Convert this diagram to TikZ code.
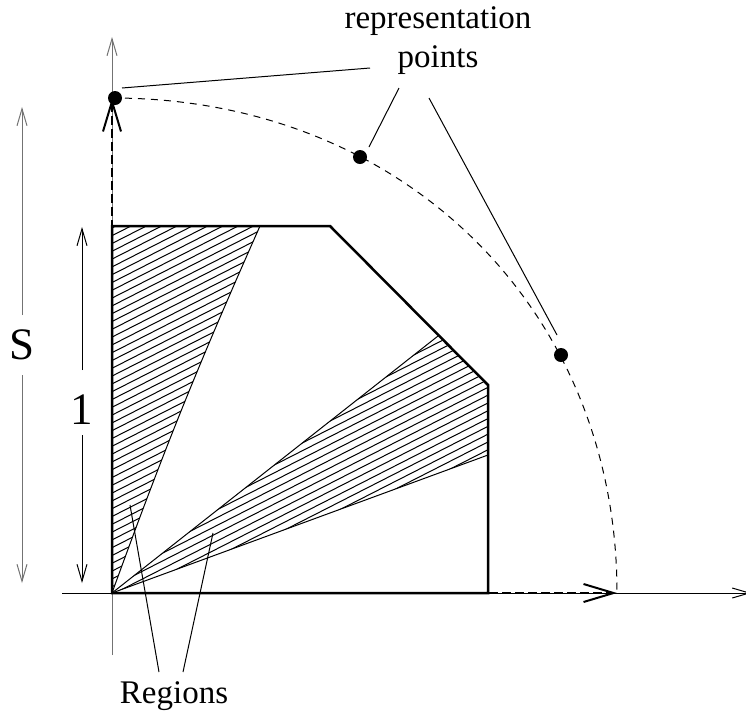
\documentclass[tikz,border=0pt]{standalone}
\usepackage{fontspec}
\setmainfont{Liberation Serif}
\usetikzlibrary{arrows.meta}
\definecolor{axgray}{gray}{0.45}
\begin{document}
\begin{tikzpicture}[x=1pt,y=-1pt,
  thinline/.style={line width=1pt},
  hatchline/.style={line width=1pt},
  smalltip/.style={-{Straight Barb[length=17pt,width=10pt]}},
  bigtip/.style={-{Straight Barb[length=30pt,width=18pt]}},
  dashedaxis/.style={line width=2pt,dash pattern=on 9pt off 4pt,bigtip},
  arcline/.style={line width=1pt,dash pattern=on 7pt off 6pt},
  outline/.style={line width=2.5pt,line join=miter},
  dot/.style={circle,fill=black,inner sep=0pt,minimum size=14pt},
  lbl/.style={font=\fontsize{33}{39}\selectfont,inner sep=0pt},
  biglbl/.style={font=\fontsize{45}{50}\selectfont,inner sep=0pt}
]
\useasboundingbox (0,0) rectangle (746,721);

\coordinate (O) at (112,593);
\coordinate (TL) at (112,226);
\coordinate (TM) at (330,226);
\coordinate (RT) at (488,385);
\coordinate (BR) at (488,593);
\coordinate (R1) at (260,226);
\coordinate (R2a) at (438,336);
\coordinate (R2b) at (488,455);

% hatching region 1
\begin{scope}
  \clip (O) -- (TL) -- (R1) to[bend right=2] cycle;
  \foreach \c in {0,7.8,...,1200} \draw[hatchline] (100,\c) -- ++(700,-356.6);
\end{scope}
% hatching region 2
\begin{scope}
  \clip (O) -- (R2a) -- (RT) -- (R2b) -- cycle;
  \foreach \c in {0,7.8,...,1200} \draw[hatchline] (100,\c) -- ++(700,-356.6);
\end{scope}
\draw[thinline] (R1) to[bend right=2] (O);
\draw[thinline] (O) -- (R2a);
\draw[thinline] (O) -- (R2b);

% axes
\coordinate (XL) at (62,593);
\coordinate (XR) at (751,593);
\coordinate (YB) at (112,655);
\coordinate (YT) at (112,37);
\draw[thinline,smalltip] (XL) -- (XR);
\draw[thinline,axgray,smalltip] (YB) -- (YT);

% polygon
\draw[outline] (O) -- (TL) -- (TM) -- (RT) -- (BR) -- cycle;

% dashed axis arrows
\coordinate (XA) at (617,593);
\coordinate (YA) at (112,98);
\draw[dashedaxis] (O) -- (XA);
\draw[dashedaxis] (O) -- (YA);

% dashed arc
\draw[arcline] (YA) .. controls (402.4,98) and (617,308.4) .. (XA);

% points
\node[dot] (p1) at (115,98) {};
\node[dot] (p2) at (360,157) {};
\node[dot] (p3) at (561,355) {};

% labels
\node[lbl,anchor=base] (rep) at (438,28) {representation};
\node[lbl,anchor=base] (pts) at (438,67) {points};
\node[lbl,anchor=base] (reg) at (174,703) {Regions};

% leader lines
\coordinate (a1) at (370,68);
\coordinate (b1) at (122,88);
\coordinate (a2) at (399,88);
\coordinate (b2) at (369,147);
\coordinate (a3) at (429,98);
\coordinate (b3) at (557,335);
\draw[thinline] (a1) -- (b1);
\draw[thinline] (a2) -- (b2);
\draw[thinline] (a3) -- (b3);
\coordinate (c1) at (159,672);
\coordinate (d1) at (130,505);
\coordinate (c2) at (183,672);
\coordinate (d2) at (213,533);
\draw[thinline] (c1) -- (d1);
\draw[thinline] (c2) -- (d2);

% dimension S
\node[biglbl] (S) at (22,345) {S};
\coordinate (St) at (22,107);
\coordinate (Sb) at (22,583);
\coordinate (Su) at (22,315);
\coordinate (Sd) at (22,375);
\draw[thinline,axgray,smalltip] (Su) -- (St);
\draw[thinline,axgray,smalltip] (Sd) -- (Sb);

% dimension 1
\node[biglbl] (one) at (82,410) {1};
\coordinate (Ot) at (82,227);
\coordinate (Ob) at (82,583);
\coordinate (Ou) at (82,370);
\coordinate (Od) at (82,435);
\draw[thinline,smalltip] (Ou) -- (Ot);
\draw[thinline,smalltip] (Od) -- (Ob);
\end{tikzpicture}
\end{document}
